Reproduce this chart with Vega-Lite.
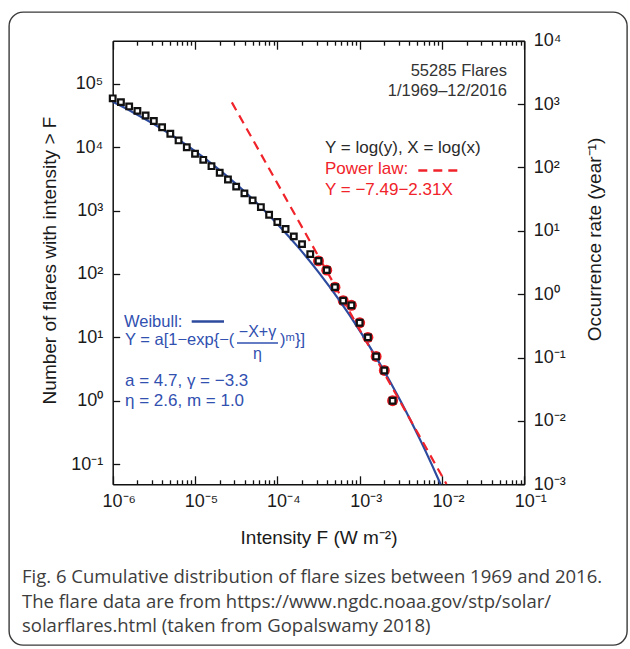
{
  "$schema": "https://vega.github.io/schema/vega-lite/v6.json",
  "width": 618,
  "height": 633,
  "autosize": {"type": "none"},
  "padding": {"left": 9, "top": 12, "right": 3, "bottom": 4},
  "background": "white",
  "config": {
    "view": {"stroke": "#3a3a3a", "strokeWidth": 1.4, "cornerRadius": 14},
    "font": "Liberation Sans",
    "axis": {
      "grid": false,
      "domainColor": "#111111",
      "domainWidth": 1.5,
      "tickColor": "#111111",
      "tickWidth": 1.3,
      "labelFont": "Liberation Sans",
      "labelFontSize": 18,
      "labelColor": "#1a1a1a",
      "titleFont": "Liberation Sans",
      "titleFontSize": 19,
      "titleFontWeight": "normal",
      "titleColor": "#1a1a1a",
      "labelFlush": false,
      "labelOverlap": false,
      "labelBound": false
    },
    "text": {"font": "Liberation Sans"}
  },
  "title": {
    "text": [
      "Fig. 6 Cumulative distribution of flare sizes between 1969 and 2016.",
      "The flare data are from https://www.ngdc.noaa.gov/stp/solar/",
      "solarflares.html (taken from Gopalswamy 2018)"
    ],
    "orient": "bottom",
    "anchor": "start",
    "frame": "group",
    "offset": -77,
    "dx": 13,
    "font": "Open Sans",
    "fontSize": 18.5,
    "fontWeight": "normal",
    "color": "#3d3d3d",
    "lineHeight": 24.5,
    "baseline": "top"
  },
  "datasets": {
    "flares": [
      {"F": 1e-6, "N": 59160}, {"F": 1.259e-6, "N": 51520}, {"F": 1.585e-6, "N": 44080},
      {"F": 1.995e-6, "N": 37470}, {"F": 2.512e-6, "N": 31660}, {"F": 3.162e-6, "N": 25960},
      {"F": 3.981e-6, "N": 20680}, {"F": 5.012e-6, "N": 16340}, {"F": 6.310e-6, "N": 12820},
      {"F": 7.943e-6, "N": 9979}, {"F": 1e-5, "N": 7887}, {"F": 1.259e-5, "N": 6325},
      {"F": 1.585e-5, "N": 5030}, {"F": 1.995e-5, "N": 3963}, {"F": 2.512e-5, "N": 3093},
      {"F": 3.162e-5, "N": 2390}, {"F": 3.981e-5, "N": 1872}, {"F": 5.012e-5, "N": 1451},
      {"F": 6.310e-5, "N": 1138}, {"F": 7.943e-5, "N": 862}, {"F": 1e-4, "N": 661},
      {"F": 1.259e-4, "N": 512}, {"F": 1.585e-4, "N": 392}, {"F": 1.995e-4, "N": 296},
      {"F": 2.512e-4, "N": 206}, {"F": 3.162e-4, "N": 161}, {"F": 3.981e-4, "N": 115},
      {"F": 5.012e-4, "N": 62}, {"F": 6.310e-4, "N": 38}, {"F": 7.943e-4, "N": 32},
      {"F": 1e-3, "N": 17}, {"F": 1.259e-3, "N": 10}, {"F": 1.585e-3, "N": 5},
      {"F": 1.995e-3, "N": 3}, {"F": 2.512e-3, "N": 1}
    ],
    "weibull": [
      {"F": 1e-6, "rate": 1086.7}, {"F": 1.778e-6, "rate": 738.3}, {"F": 3.162e-6, "rate": 482.5},
      {"F": 5.623e-6, "rate": 301.9}, {"F": 1e-5, "rate": 180.3}, {"F": 1.778e-5, "rate": 102.1},
      {"F": 3.162e-5, "rate": 54.65}, {"F": 5.623e-5, "rate": 27.45}, {"F": 1e-4, "rate": 12.86},
      {"F": 1.778e-4, "rate": 5.585}, {"F": 3.162e-4, "rate": 2.228}, {"F": 5.623e-4, "rate": 0.8103},
      {"F": 1e-3, "rate": 0.2662}, {"F": 1.334e-3, "rate": 0.1464}, {"F": 1.778e-3, "rate": 0.07813},
      {"F": 2.371e-3, "rate": 0.04044}, {"F": 3.162e-3, "rate": 0.02025}, {"F": 4.217e-3, "rate": 0.009809},
      {"F": 5.623e-3, "rate": 0.004587}, {"F": 7.499e-3, "rate": 0.002062}, {"F": 9.627e-3, "rate": 0.001}
    ],
    "powerlaw": [
      {"F": 2.8e-5, "rate": 1065},
      {"F": 0.01133, "rate": 0.001011}
    ]
  },
  "layer": [
    {
      "layer": [
        {
          "data": {"name": "flares"},
          "transform": [{"filter": "datum.F >= 3e-4"}],
          "mark": {"type": "point", "shape": "circle", "filled": true, "color": "#ee1c24", "size": 120, "opacity": 1},
          "encoding": {
            "x": {
              "field": "F", "type": "quantitative",
              "scale": {"type": "log", "domain": [1e-6, 0.1], "range": [103.7, 515.3], "nice": false},
              "axis": {
                "orient": "bottom",
                "offset": -160.7,
                "values": [1e-6, 2e-6, 3e-6, 4e-6, 5e-6, 6e-6, 7e-6, 8e-6, 9e-6,
                           1e-5, 2e-5, 3e-5, 4e-5, 5e-5, 6e-5, 7e-5, 8e-5, 9e-5,
                           1e-4, 2e-4, 3e-4, 4e-4, 5e-4, 6e-4, 7e-4, 8e-4, 9e-4,
                           1e-3, 2e-3, 3e-3, 4e-3, 5e-3, 6e-3, 7e-3, 8e-3, 9e-3,
                           1e-2, 2e-2, 3e-2, 4e-2, 5e-2, 6e-2, 7e-2, 8e-2, 9e-2, 0.1],
                "tickSize": {"condition": {"test": "abs(log(datum.value)/LN10 - round(log(datum.value)/LN10)) < 0.001", "value": -8.5}, "value": -4.5},
                "labelExpr": "abs(log(datum.value)/LN10 - round(log(datum.value)/LN10)) < 0.001 ? '10' + replace(replace(replace(replace(replace(replace(replace(replace('' + round(log(datum.value)/LN10), '-', '⁻'), '0', '⁰'), '1', '¹'), '2', '²'), '3', '³'), '4', '⁴'), '5', '⁵'), '6', '⁶') : ''",
                "labelBaseline": "middle",
                "labelPadding": 26,
                "labelOffset": 6,
                "title": "Intensity F (W m⁻²)",
                "titleY": 53,
                "titleBaseline": "middle"
              }
            },
            "y": {
              "field": "N", "type": "quantitative",
              "scale": {"type": "log", "domain": [0.048, 480000], "range": [472.3, 28.7], "nice": false},
              "axis": {
                "orient": "left",
                "offset": -103.7,
                "values": [0.1, 1, 10, 100, 1000, 10000, 100000],
                "tickSize": -7,
                "labelPadding": 17,
                "labelBaseline": "middle",
                "labelExpr": "'10' + replace(replace(replace(replace(replace(replace(replace(replace('' + round(log(datum.value)/LN10), '-', '⁻'), '0', '⁰'), '1', '¹'), '2', '²'), '3', '³'), '4', '⁴'), '5', '⁵'), '6', '⁶')",
                "title": "Number of flares with intensity > F",
                "titleX": -63.2,
                "titleY": 248,
                "titleAngle": 270,
                "titleAlign": "center",
                "titleBaseline": "middle"
              }
            }
          }
        },
        {
          "data": {"values": [{"label": "55285 Flares"}]},
          "mark": {"type": "text", "align": "right", "baseline": "middle", "fontSize": 16.5, "color": "#333333"},
          "encoding": {"x": {"datum": 0.06164}, "y": {"datum": 159600}, "text": {"field": "label"}}
        },
        {
          "data": {"values": [{"label": "1/1969–12/2016"}]},
          "mark": {"type": "text", "align": "right", "baseline": "middle", "fontSize": 16.5, "color": "#333333"},
          "encoding": {"x": {"datum": 0.06164}, "y": {"datum": 77170}, "text": {"field": "label"}}
        },
        {
          "data": {"values": [{"label": "Y = log(y), X = log(x)"}]},
          "mark": {"type": "text", "align": "left", "baseline": "middle", "fontSize": 17, "color": "#2a2a2a"},
          "encoding": {"x": {"datum": 3.793e-4}, "y": {"datum": 9622}, "text": {"field": "label"}}
        },
        {
          "data": {"values": [{"label": "Power law:"}]},
          "mark": {"type": "text", "align": "left", "baseline": "middle", "fontSize": 17, "color": "#f0232a"},
          "encoding": {"x": {"datum": 3.793e-4}, "y": {"datum": 4486}, "text": {"field": "label"}}
        },
        {
          "data": {"values": [{"label": "power law key"}]},
          "mark": {"type": "rule", "color": "#f0232a", "strokeWidth": 2.5, "strokeDash": [9, 6]},
          "encoding": {"x": {"datum": 5.158e-3}, "x2": {"datum": 1.736e-2}, "y": {"datum": 4294}}
        },
        {
          "data": {"values": [{"label": "Y = −7.49−2.31X"}]},
          "mark": {"type": "text", "align": "left", "baseline": "middle", "fontSize": 17, "color": "#f0232a"},
          "encoding": {"x": {"datum": 3.793e-4}, "y": {"datum": 2114}, "text": {"field": "label"}}
        },
        {
          "data": {"values": [{"label": "Weibull:"}]},
          "mark": {"type": "text", "align": "left", "baseline": "middle", "fontSize": 16.5, "color": "#3150b0"},
          "encoding": {"x": {"datum": 1.3717e-6}, "y": {"datum": 17.79}, "text": {"field": "label"}}
        },
        {
          "data": {"values": [{"label": "Weibull key"}]},
          "mark": {"type": "rule", "color": "#2c4a9e", "strokeWidth": 2.5},
          "encoding": {"x": {"datum": 9.115e-6}, "x2": {"datum": 2.249e-5}, "y": {"datum": 17.79}}
        },
        {
          "data": {"values": [{"label": "Y = a[1−exp{−("}]},
          "mark": {"type": "text", "align": "left", "baseline": "middle", "fontSize": 16.5, "color": "#3150b0"},
          "encoding": {"x": {"datum": 1.41e-6}, "y": {"datum": 9.247}, "text": {"field": "label"}}
        },
        {
          "data": {"values": [{"label": "−X+γ"}]},
          "mark": {"type": "text", "align": "center", "baseline": "middle", "fontSize": 16, "color": "#3150b0"},
          "encoding": {"x": {"datum": 5.741e-5}, "y": {"datum": 12.146}, "text": {"field": "label"}}
        },
        {
          "data": {"values": [{"label": "fraction bar"}]},
          "mark": {"type": "rule", "color": "#3150b0", "strokeWidth": 1.3},
          "encoding": {"x": {"datum": 3.236e-5}, "x2": {"datum": 1.019e-4}, "y": {"datum": 8.144}}
        },
        {
          "data": {"values": [{"label": "η"}]},
          "mark": {"type": "text", "align": "center", "baseline": "middle", "fontSize": 16, "color": "#3150b0"},
          "encoding": {"x": {"datum": 5.741e-5}, "y": {"datum": 5.461}, "text": {"field": "label"}}
        },
        {
          "data": {"values": [{"label": ")ᵐ}]"}]},
          "mark": {"type": "text", "align": "left", "baseline": "middle", "fontSize": 16.5, "color": "#3150b0"},
          "encoding": {"x": {"datum": 1.077e-4}, "y": {"datum": 9.247}, "text": {"field": "label"}}
        },
        {
          "data": {"values": [{"label": "a = 4.7, γ = −3.3"}]},
          "mark": {"type": "text", "align": "left", "baseline": "middle", "fontSize": 17, "color": "#3150b0"},
          "encoding": {"x": {"datum": 1.41e-6}, "y": {"datum": 2.047}, "text": {"field": "label"}}
        },
        {
          "data": {"values": [{"label": "η = 2.6, m = 1.0"}]},
          "mark": {"type": "text", "align": "left", "baseline": "middle", "fontSize": 17, "color": "#3150b0"},
          "encoding": {"x": {"datum": 1.41e-6}, "y": {"datum": 0.9897}, "text": {"field": "label"}}
        }
      ]
    },
    {
      "layer": [
        {
          "data": {"name": "weibull"},
          "mark": {"type": "line", "color": "#2c4a9e", "strokeWidth": 2.2, "interpolate": "monotone"},
          "encoding": {
            "x": {
              "field": "F", "type": "quantitative",
              "scale": {"type": "log", "domain": [1e-6, 0.1], "range": [103.7, 515.3], "nice": false},
              "axis": {
                "orient": "top",
                "offset": -28.7,
                "values": [1e-6, 2e-6, 3e-6, 4e-6, 5e-6, 6e-6, 7e-6, 8e-6, 9e-6,
                           1e-5, 2e-5, 3e-5, 4e-5, 5e-5, 6e-5, 7e-5, 8e-5, 9e-5,
                           1e-4, 2e-4, 3e-4, 4e-4, 5e-4, 6e-4, 7e-4, 8e-4, 9e-4,
                           1e-3, 2e-3, 3e-3, 4e-3, 5e-3, 6e-3, 7e-3, 8e-3, 9e-3,
                           1e-2, 2e-2, 3e-2, 4e-2, 5e-2, 6e-2, 7e-2, 8e-2, 9e-2, 0.1],
                "tickSize": {"condition": {"test": "abs(log(datum.value)/LN10 - round(log(datum.value)/LN10)) < 0.001", "value": -8.5}, "value": -4.5},
                "labels": false,
                "title": null
              }
            },
            "y": {
              "field": "rate", "type": "quantitative",
              "scale": {"type": "log", "domain": [0.001, 10000], "range": [472.3, 28.7], "nice": false},
              "axis": {
                "orient": "right",
                "offset": -102.7,
                "values": [0.001, 0.01, 0.1, 1, 10, 100, 1000, 10000],
                "tickSize": -7,
                "labelPadding": 16,
                "labelBaseline": "middle",
                "labelExpr": "'10' + replace(replace(replace(replace(replace(replace(replace(replace('' + round(log(datum.value)/LN10), '-', '⁻'), '0', '⁰'), '1', '¹'), '2', '²'), '3', '³'), '4', '⁴'), '5', '⁵'), '6', '⁶')",
                "title": "Occurrence rate (year⁻¹)",
                "titleX": 69.7,
                "titleY": 227,
                "titleAngle": 270,
                "titleAlign": "center",
                "titleBaseline": "middle"
              }
            }
          }
        },
        {
          "data": {"name": "powerlaw"},
          "mark": {"type": "line", "color": "#f0232a", "strokeWidth": 2.2, "strokeDash": [9, 6]},
          "encoding": {
            "x": {"field": "F", "type": "quantitative"},
            "y": {"field": "rate", "type": "quantitative"}
          }
        }
      ]
    },
    {
      "data": {"name": "flares"},
      "mark": {"type": "point", "shape": "square", "filled": true, "fill": "white", "stroke": "#111111", "strokeWidth": 2.2, "size": 32, "opacity": 1},
      "encoding": {
        "x": {"field": "F", "type": "quantitative", "axis": null},
        "y": {
          "field": "N", "type": "quantitative",
          "scale": {"type": "log", "domain": [0.048, 480000], "range": [472.3, 28.7], "nice": false},
          "axis": null
        }
      }
    }
  ],
  "resolve": {
    "scale": {"y": "independent"},
    "axis": {"x": "independent", "y": "independent"}
  }
}
